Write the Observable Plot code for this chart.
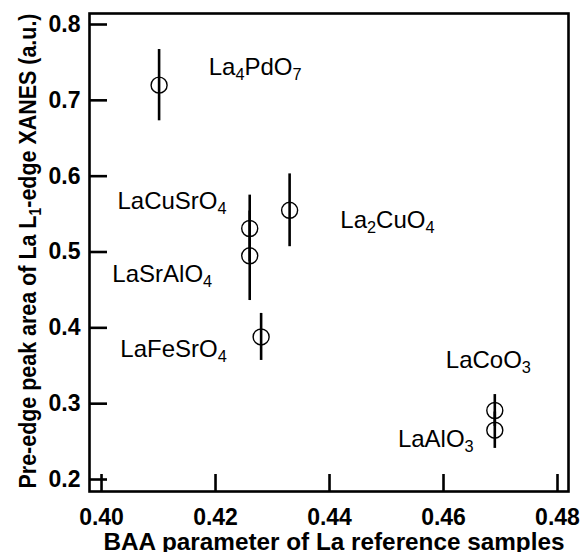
<!DOCTYPE html>
<html><head><meta charset="utf-8">
<script src="https://cdn.jsdelivr.net/npm/d3@7"></script>
<script src="https://cdn.jsdelivr.net/npm/@observablehq/plot@0.6"></script>
<style>
html,body{margin:0;padding:0;background:#fff;overflow:hidden;}
</style></head><body>
<div id="chart"></div>
<script>
// ---- data ----
const samples   = ["La4PdO7", "LaCuSrO4", "LaSrAlO4", "La2CuO4", "LaFeSrO4", "LaCoO3", "LaAlO3"];
const baa       = [0.4101, 0.4260, 0.4260, 0.4330, 0.4280, 0.4690, 0.4690];
const peakArea  = [0.720, 0.531, 0.495, 0.555, 0.388, 0.291, 0.265];
const peakErr   = [0.047, 0.044, 0.059, 0.048, 0.031, 0.021, 0.024];
const labelX    = [0.4188, 0.4028, 0.4019, 0.4419, 0.4033, 0.4604, 0.4520];
const labelY    = [0.734, 0.557, 0.460, 0.531, 0.362, 0.347, 0.243];
const xTicks    = [0.40, 0.42, 0.44, 0.46, 0.48];
const yTicks    = [0.2, 0.3, 0.4, 0.5, 0.6, 0.7, 0.8];
const xTitle    = "BAA parameter of La reference samples";
const yTitle    = "Pre-edge peak area of La L1-edge XANES (a.u.)";

const rows = samples.map((s, i) => ({
  name: s, x: baa[i], y: peakArea[i], lo: peakArea[i] - peakErr[i], hi: peakArea[i] + peakErr[i],
  lx: labelX[i], ly: labelY[i]
}));

const W = 580, H = 552;
const mL = 89, mR = 12, mT = 13, mB = 61;
const FONT = "'Liberation Sans', Arial, Helvetica, sans-serif";

const chart = Plot.plot({
  width: W, height: H,
  marginLeft: mL, marginRight: mR, marginTop: mT, marginBottom: mB,
  style: {fontFamily: FONT, background: "#fff", color: "#000", overflow: "visible"},
  x: {domain: [0.39789, 0.48193]},
  y: {domain: [0.18418, 0.81451]},
  marks: [
    // inward ticks
    Plot.ruleX(xTicks, {x: d => d, insetTop: (H - mT - mB) - 17, stroke: "#000", strokeWidth: 2.6}),
    Plot.ruleY(yTicks, {y: d => d, insetRight: (W - mL - mR) - 18, stroke: "#000", strokeWidth: 2.6}),
    Plot.axisX({ticks: xTicks, tickSize: 0, tickPadding: 17, tickFormat: d3.format(".2f"),
      fontSize: 23, fontWeight: "bold", label: null}),
    Plot.axisY({ticks: yTicks, tickSize: 0, tickPadding: 9, tickFormat: d3.format(".1f"),
      fontSize: 23, fontWeight: "bold", label: null}),
    Plot.frame({stroke: "#000", strokeWidth: 2.6}),
    // error bars
    Plot.ruleX(rows, {x: "x", y1: "lo", y2: "hi", stroke: "#000", strokeWidth: 2.6}),
    // open circles
    Plot.dot(rows, {x: "x", y: "y", r: 8, stroke: "#000", strokeWidth: 1.4, fill: "none"}),
    // sample labels
    Plot.text(rows, {x: "lx", y: "ly", text: "name", textAnchor: "start", lineAnchor: "bottom",
      fontSize: 24, fill: "#000", ariaDescription: "sample-labels"}),
    // axis titles
    Plot.text([xTitle], {frameAnchor: "bottom", dx: 5, dy: mB - 2.5, text: d => d, textAnchor: "middle", lineAnchor: "bottom",
      fontSize: 24.5, fontWeight: "bold", fill: "#000", ariaDescription: "x-title"}),
    Plot.text([yTitle], {frameAnchor: "left", dx: -53.5, dy: -1.5, rotate: -90, text: d => d, textAnchor: "middle", lineAnchor: "bottom",
      fontSize: 24.5, fontWeight: "bold", fill: "#000", ariaDescription: "y-title"})
  ]
});

document.getElementById("chart").appendChild(chart);

// turn digits inside chemical formulas into subscripts (real text kept)
function subscriptify(textEl, shift, scale) {
  const s = textEl.textContent;
  const parts = s.split(/(\d+)/).filter(p => p.length);
  while (textEl.firstChild) textEl.removeChild(textEl.firstChild);
  let down = false;
  parts.forEach(p => {
    const t = document.createElementNS("http://www.w3.org/2000/svg", "tspan");
    t.textContent = p;
    if (/^\d+$/.test(p)) { t.setAttribute("font-size", scale); t.setAttribute("dy", shift); down = true; }
    else if (down) { t.setAttribute("dy", -shift); down = false; }
    textEl.appendChild(t);
  });
}
const svg = d3.select(chart);
svg.selectAll('g[aria-description="sample-labels"] text').each(function() { subscriptify(this, 5, "68%"); });
svg.selectAll('g[aria-description="y-title"] text').each(function() { subscriptify(this, 5, "65%"); })
  .attr("textLength", 475).attr("lengthAdjust", "spacingAndGlyphs");
svg.selectAll('g[aria-description="x-title"] text')
  .attr("textLength", 461).attr("lengthAdjust", "spacingAndGlyphs");
</script>
</body></html>
